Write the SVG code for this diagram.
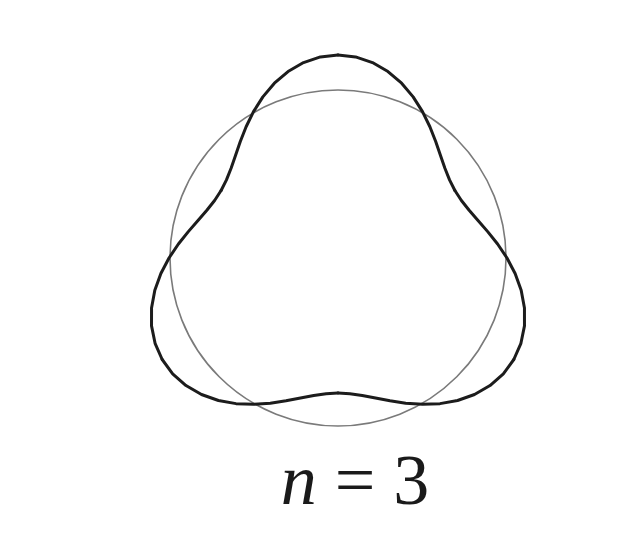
<svg xmlns="http://www.w3.org/2000/svg" xmlns:xlink="http://www.w3.org/1999/xlink" width="633" height="551" viewBox="0 0 633 551">
<style>
.circ{fill:none;stroke:#7a7a7a;stroke-width:1.6}
.wave{fill:none;stroke:#1c1c1c;stroke-width:3;stroke-linecap:round;stroke-linejoin:round}
.lbl{font-family:"Liberation Serif","Times New Roman",serif;font-size:72px;fill:#1a1a1a}
</style>
<defs>
<path id="half" d="M338,55 L355.59,56.93 L372.46,62.57 L387.96,71.54 L401.62,83.22 L413.14,96.86 L422.5,111.64 L429.89,126.77 L435.7,141.56 L440.5,155.5 L444.91,168.29 L449.54,179.9 L454.91,190.5"/>
<g id="seg">
<use xlink:href="#half"/>
<use xlink:href="#half" transform="translate(676,0) scale(-1,1)"/>
</g>
</defs>
<rect width="633" height="551" fill="#ffffff"/>
<g id="circle">
<circle class="circ" cx="338" cy="258" r="168"/>
</g>
<g id="curve" class="wave">
<use xlink:href="#seg"/>
<use xlink:href="#seg" transform="rotate(120 338 258)"/>
<use xlink:href="#seg" transform="rotate(240 338 258)"/>
</g>
<g id="label">
<text class="lbl" x="355" y="504" text-anchor="middle"><tspan font-style="italic">n</tspan> = 3</text>
</g>
</svg>
